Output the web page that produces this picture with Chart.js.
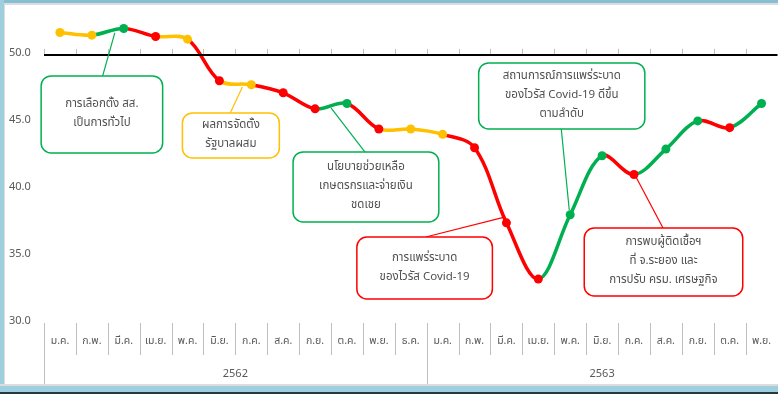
<!DOCTYPE html>
<html>
<head>
<meta charset="utf-8">
<script src="https://cdn.jsdelivr.net/npm/chart.js@4"></script>
<style>
  html, body { margin: 0; padding: 0; overflow: hidden; background: #ffffff; }
  canvas { display: block; }
</style>
</head>
<body>
<canvas id="myChart" width="782" height="394"></canvas>
<script>
// เดือน / ปี
const months = ["ม.ค.", "ก.พ.", "มี.ค.", "เม.ย.", "พ.ค.", "มิ.ย.", "ก.ค.", "ส.ค.", "ก.ย.", "ต.ค.", "พ.ย.", "ธ.ค.",
  "ม.ค.", "ก.พ.", "มี.ค.", "เม.ย.", "พ.ค.", "มิ.ย.", "ก.ค.", "ส.ค.", "ก.ย.", "ต.ค.", "พ.ย."];
const years = ["2562", "2563"];
const monthsPerYear = [12, 11];

// ค่าดัชนี
const values = [51.6, 51.4, 51.9, 51.3, 51.1, 48.0, 47.7, 47.1, 45.9, 46.3, 44.4, 44.4,
  44.0, 43.0, 37.4, 33.2, 38.0, 42.4, 41.0, 42.9, 45.0, 44.5, 46.3];

// ทิศทางเทียบเดือนก่อน: up / down / flat
const trend = ["flat", "flat", "up", "down", "flat", "down", "flat", "down", "down", "up", "down", "flat",
  "flat", "down", "down", "down", "up", "up", "down", "up", "up", "down", "up"];

const yTicks = [30, 35, 40, 45, 50];

const noteTexts = [
  ["การเลือกตั้ง สส.", "เป็นการทั่วไป"],
  ["ผลการจัดตั้ง", "รัฐบาลผสม"],
  ["นโยบายช่วยเหลือ", "เกษตรกรและจ่ายเงิน", "ชดเชย"],
  ["สถานการณ์การแพร่ระบาด", "ของไวรัส Covid-19 ดีขึ้น", "ตามลำดับ"],
  ["การแพร่ระบาด", "ของไวรัส Covid-19"],
  ["การพบผู้ติดเชื้อฯ", "ที่ จ.ระยอง และ", "การปรับ ครม. เศรษฐกิจ"]
];
const noteKinds = ["up", "flat", "up", "up", "down", "down"];

const colors = { up: "#00B050", down: "#FF0000", flat: "#FFC000" };
const FONT = "Tahoma, 'Leelawadee UI', 'Noto Sans Thai', 'DejaVu Sans', sans-serif";

const framePlugin = {
  id: "frame",
  beforeDraw: (chart) => {
    const { ctx, width, height } = chart;
    ctx.save();
    ctx.fillStyle = "#ffffff";
    ctx.fillRect(0, 0, width, height);
    ctx.restore();
  },
  afterDraw: (chart) => {
    const { ctx, width, height } = chart;
    ctx.save();
    ctx.fillStyle = "#86bfd2";
    ctx.fillRect(0, 0, width, 3);
    ctx.fillStyle = "#dcdcdc";
    ctx.fillRect(0, 3, width, 2);
    ctx.fillStyle = "#9dcfdf";
    ctx.fillRect(0, 0, 4, height);
    ctx.fillStyle = "#dcdcdc";
    ctx.fillRect(4, 5, 1, height);
    ctx.fillStyle = "#dcdcdc";
    ctx.fillRect(0, 384, width, 2);
    ctx.fillStyle = "#9dcfdf";
    ctx.fillRect(0, 386, width, 6);
    ctx.fillStyle = "#27383d";
    ctx.fillRect(0, 392, width, 2);
    ctx.restore();
  }
};

// เส้นแกนที่ 50, ป้ายเดือน และเส้นแบ่งเดือน/ปี
const axisPlugin = {
  id: "axisDeco",
  afterDatasetsDraw: (chart) => {
    const { ctx, chartArea, scales } = chart;
    const x = scales.x, y = scales.y;
    const w = (chartArea.right - chartArea.left) / months.length;
    const y50 = y.getPixelForValue(50);
    ctx.save();
    // tick marks above the 50 line
    ctx.strokeStyle = "#bfbfbf";
    ctx.lineWidth = 1;
    for (let i = 0; i <= months.length; i++) {
      const px = Math.round(chartArea.left + i * w) + 0.5;
      ctx.beginPath();
      ctx.moveTo(px, y50 - 5);
      ctx.lineTo(px, y50);
      ctx.stroke();
    }
    // separators under the plot
    const top = chartArea.bottom + 1;
    let start = 0;
    const yearBounds = [0];
    monthsPerYear.forEach((n) => { start += n; yearBounds.push(start); });
    for (let i = 0; i < months.length; i++) {
      const px = Math.round(chartArea.left + i * w) + 0.5;
      const full = yearBounds.includes(i);
      ctx.beginPath();
      ctx.moveTo(px, top);
      ctx.lineTo(px, full ? 388 : top + 32);
      ctx.stroke();
    }
    // month labels
    ctx.fillStyle = "#595959";
    ctx.font = "10.5px " + FONT;
    ctx.textAlign = "center";
    ctx.textBaseline = "middle";
    months.forEach((m, i) => {
      ctx.fillText(m, x.getPixelForValue(i), chartArea.bottom + 20);
    });
    // year labels
    ctx.font = "11px " + FONT;
    years.forEach((yr, k) => {
      const a = chartArea.left + yearBounds[k] * w;
      const b = Math.min(chartArea.left + yearBounds[k + 1] * w, 778);
      ctx.fillText(yr, (a + b) / 2, 375);
    });
    // black axis line at 50
    ctx.strokeStyle = "#000000";
    ctx.lineWidth = 2;
    ctx.beginPath();
    ctx.moveTo(chartArea.left, Math.round(y50) + 1);
    ctx.lineTo(chartArea.right, Math.round(y50) + 1);
    ctx.stroke();
    ctx.restore();
  }
};

// กล่องคำอธิบาย
const notesPlugin = {
  id: "notes",
  afterDraw: (chart, args, options) => {
    const { ctx, scales } = chart;
    const x = scales.x, y = scales.y;
    ctx.save();
    options.items.forEach((n, k) => {
      const color = colors[noteKinds[k]];
      const x1 = x.getPixelForValue(n.box[0]);
      const x2 = x.getPixelForValue(n.box[1]);
      const y1 = y.getPixelForValue(n.box[2]);
      const y2 = y.getPixelForValue(n.box[3]);
      // connector
      const bx = x.getPixelForValue(n.base);
      const by = n.fromTop ? y1 : y2;
      const tx = x.getPixelForValue(n.tip[0]);
      const ty = y.getPixelForValue(n.tip[1]);
      ctx.strokeStyle = color;
      ctx.lineWidth = 1.2;
      ctx.beginPath();
      ctx.moveTo(bx, by);
      ctx.lineTo(tx, ty);
      ctx.stroke();
      // box
      ctx.fillStyle = "#ffffff";
      ctx.lineWidth = 1.5;
      ctx.beginPath();
      ctx.roundRect(x1, y1, x2 - x1, y2 - y1, 10);
      ctx.fill();
      ctx.stroke();
      // text
      const lines = noteTexts[k];
      ctx.fillStyle = "#505050";
      ctx.font = "11.5px " + FONT;
      ctx.textAlign = "center";
      ctx.textBaseline = "middle";
      const cy = (y1 + y2) / 2;
      const lh = 19;
      lines.forEach((t, j) => {
        ctx.fillText(t, (x1 + x2) / 2, cy + (j - (lines.length - 1) / 2) * lh);
      });
    });
    ctx.restore();
  }
};

const myChart = new Chart("myChart", {
  type: "line",
  data: {
    labels: months,
    datasets: [
      {
        data: values,
        borderWidth: 3.5,
        tension: 0.35,
        clip: false,
        pointRadius: 4.5,
        pointHoverRadius: 4.5,
        pointBorderWidth: 0,
        pointBackgroundColor: trend.map((t) => colors[t]),
        pointBorderColor: trend.map((t) => colors[t]),
        borderColor: colors.flat,
        segment: {
          borderColor: (c) => colors[trend[c.p1DataIndex]]
        }
      }
    ]
  },
  options: {
    responsive: false,
    animation: false,
    events: [],
    layout: { padding: { top: 7, right: 2, left: 9, bottom: 0 } },
    scales: {
      x: {
        offset: true,
        grid: { display: false, drawTicks: false },
        border: { display: false },
        ticks: { display: false },
        afterFit: (s) => { s.height = 72; }
      },
      y: {
        min: 30,
        max: 53.5,
        grid: { display: false, drawTicks: false },
        border: { display: false },
        afterBuildTicks: (s) => { s.ticks = yTicks.map((v) => ({ value: v })); },
        ticks: {
          color: "#595959",
          font: { size: 11, family: FONT },
          padding: 0,
          crossAlign: "far",
          callback: (v) => Number(v).toFixed(1)
        },
        afterFit: (s) => { s.width = 35; }
      }
    },
    plugins: {
      legend: { display: false },
      tooltip: { enabled: false },
      notes: {
        items: [
          { box: [-0.59, 3.22, 48.36, 42.61], base: 1.34, fromTop: true, tip: [1.72, 51.57] },
          { box: [3.84, 6.88, 45.6, 42.24], base: 5.34, fromTop: true, tip: [5.72, 47.54] },
          { box: [7.31, 11.88, 42.69, 37.46], base: 9.56, fromTop: true, tip: [8.5, 45.97] },
          { box: [13.13, 18.34, 49.33, 44.4], base: 15.72, fromTop: false, tip: [15.97, 38.36] },
          { box: [9.31, 13.56, 36.34, 31.72], base: 11.47, fromTop: true, tip: [13.97, 37.84] },
          { box: [16.44, 21.41, 37.01, 31.94], base: 18.91, fromTop: true, tip: [18.03, 40.97] }
        ]
      }
    }
  },
  plugins: [framePlugin, axisPlugin, notesPlugin]
});
</script>
</body>
</html>
